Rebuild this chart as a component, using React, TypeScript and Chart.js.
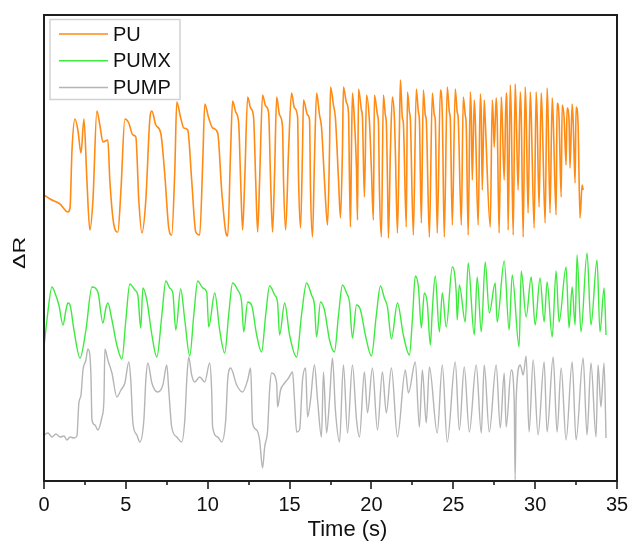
import { useEffect, useRef } from "react";
import { Chart, registerables } from "chart.js";
Chart.register(...registerables);

// Time axis (s)
const X_MIN = 0;
const X_MAX = 35;
const X_MAJOR_STEP = 5;
const X_MINOR_STEP = 2.5;

const SERIES_NAMES = ["PU", "PUMX", "PUMP"];

// [time (s), ΔR (arb. units)]
const PU: [number, number][] = [[0,286],[0.37,282],[0.98,277],[1.46,269],[1.59,273],[1.71,331],[1.89,362],[2.07,351],[2.26,328],[2.44,362],[2.62,301],[2.80,251],[2.99,281],[3.23,370],[3.41,356],[3.60,339],[3.90,341],[4.02,301],[4.27,256],[4.51,249],[4.70,291],[4.94,362],[5.18,358],[5.43,346],[5.61,344],[5.79,281],[5.98,248],[6.22,281],[6.46,361],[6.59,370],[6.83,356],[7.13,348],[7.38,306],[7.62,253],[7.80,246],[7.99,311],[8.11,379],[8.35,363],[8.54,353],[8.78,351],[9.02,301],[9.27,249],[9.51,246],[9.70,321],[9.82,377],[10.06,363],[10.30,353],[10.61,348],[10.85,291],[11.10,249],[11.22,245],[11.40,331],[11.52,380],[11.71,369],[11.89,358],[12.01,301],[12.13,251],[12.26,301],[12.44,384],[12.62,373],[12.80,364],[12.93,301],[13.05,249],[13.17,301],[13.35,386],[13.54,375],[13.72,368],[13.84,301],[13.96,249],[14.09,311],[14.21,384],[14.39,366],[14.57,354],[14.63,301],[14.76,251],[14.94,331],[15.12,388],[15.30,373],[15.49,364],[15.55,301],[15.67,253],[15.79,331],[15.85,381],[16.10,366],[16.22,361],[16.28,291],[16.40,244],[16.52,321],[16.65,388],[16.83,366],[16.95,354],[17.13,301],[17.32,256],[17.44,331],[17.50,394],[17.68,376],[17.80,363],[17.99,301],[18.11,263],[18.23,331],[18.29,394],[18.48,378],[18.60,368],[18.66,301],[18.72,254],[18.78,331],[18.84,388],[18.96,361],[19.09,311],[19.15,261],[19.21,392],[19.39,371],[19.45,364],[19.57,284],[19.70,386],[19.88,359],[20.00,311],[20.12,261],[20.18,386],[20.37,366],[20.43,358],[20.49,291],[20.61,244],[20.73,386],[20.85,366],[20.91,358],[20.98,301],[21.04,243],[21.16,331],[21.28,384],[21.40,364],[21.46,331],[21.59,248],[21.71,351],[21.77,401],[21.89,363],[21.95,358],[22.13,254],[22.20,389],[22.32,369],[22.38,361],[22.56,246],[22.74,392],[22.87,369],[22.93,361],[23.05,258],[23.17,391],[23.29,366],[23.35,361],[23.54,244],[23.72,388],[23.84,366],[23.90,361],[24.02,248],[24.21,391],[24.33,366],[24.45,244],[24.63,394],[24.76,369],[24.82,361],[24.94,256],[25.12,392],[25.24,369],[25.30,363],[25.49,256],[25.61,384],[25.73,366],[25.79,356],[25.91,246],[26.04,389],[26.10,366],[26.16,301],[26.28,381],[26.34,363],[26.52,256],[26.65,387],[26.71,366],[26.77,291],[26.89,381],[26.95,361],[27.26,254],[27.38,381],[27.44,363],[27.50,334],[27.62,383],[27.68,363],[27.80,248],[27.93,384],[27.99,363],[28.11,301],[28.23,388],[28.29,363],[28.35,251],[28.48,396],[28.54,366],[28.66,246],[28.78,397],[28.84,369],[28.96,291],[29.09,389],[29.15,366],[29.27,244],[29.39,394],[29.45,369],[29.57,268],[29.70,389],[29.76,366],[29.94,253],[30.06,389],[30.12,366],[30.24,274],[30.37,388],[30.43,366],[30.61,258],[30.73,393],[30.79,366],[30.91,268],[31.04,383],[31.10,364],[31.28,266],[31.34,378],[31.46,363],[31.59,284],[31.65,376],[31.77,363],[31.89,316],[31.95,373],[32.07,361],[32.13,313],[32.26,377],[32.32,361],[32.44,298],[32.50,374],[32.62,358],[32.74,263],[32.87,296],[32.93,291]];

const PUMX: [number, number][] = [[0,134],[0.18,161],[0.49,194],[0.67,188],[0.91,176],[1.16,156],[1.34,171],[1.46,178],[1.59,176],[1.83,151],[2.20,123],[2.56,151],[2.93,194],[3.29,189],[3.60,158],[3.78,173],[3.90,178],[4.15,161],[4.45,136],[4.76,122],[5.00,161],[5.24,197],[5.55,191],[5.73,186],[5.91,153],[6.04,193],[6.28,181],[6.59,146],[6.89,124],[7.20,166],[7.44,200],[7.68,193],[7.87,188],[8.05,151],[8.35,192],[8.60,161],[8.90,125],[9.15,166],[9.39,200],[9.70,193],[9.94,189],[10.06,154],[10.43,188],[10.73,151],[11.04,128],[11.28,166],[11.52,198],[11.83,191],[12.07,179],[12.20,149],[12.44,179],[12.68,176],[12.99,146],[13.29,129],[13.54,166],[13.78,195],[14.09,186],[14.27,178],[14.39,146],[14.70,178],[15.00,146],[15.43,124],[15.73,166],[16.04,198],[16.34,186],[16.52,176],[16.65,144],[16.89,179],[17.13,171],[17.44,141],[17.74,129],[17.99,166],[18.23,196],[18.48,188],[18.66,179],[18.84,143],[19.09,176],[19.33,171],[19.63,146],[20.00,125],[20.30,166],[20.55,195],[20.79,183],[20.98,174],[21.22,142],[21.59,178],[21.95,146],[22.32,126],[22.50,161],[22.68,205],[22.87,194],[23.05,153],[23.23,188],[23.41,178],[23.60,136],[23.72,171],[23.90,205],[24.15,149],[24.33,188],[24.57,154],[24.94,214],[25.18,188],[25.24,161],[25.37,196],[25.73,159],[25.91,218],[26.28,146],[26.46,204],[26.71,149],[26.95,219],[27.20,168],[27.56,198],[27.68,159],[28.11,220],[28.41,151],[28.60,206],[29.02,134],[29.15,210],[29.45,164],[29.76,204],[30.00,156],[30.30,203],[30.55,159],[30.73,199],[31.04,144],[31.28,210],[31.46,159],[31.89,214],[32.07,153],[32.26,194],[32.44,156],[32.56,226],[32.80,149],[33.17,228],[33.41,156],[33.78,221],[33.96,149],[34.21,193],[34.33,146]];

const PUMP: [number, number][] = [[0,46],[0.24,48],[0.49,44],[0.73,47],[0.98,44],[1.22,45],[1.40,41],[1.59,44],[1.83,43],[2.01,45],[2.13,78],[2.26,86],[2.38,111],[2.56,121],[2.68,132],[2.80,126],[2.87,104],[2.93,61],[3.11,56],[3.29,51],[3.54,64],[3.66,81],[3.72,132],[3.90,121],[4.15,108],[4.45,84],[4.70,91],[4.94,98],[5.18,119],[5.30,101],[5.43,58],[5.67,46],[5.85,39],[6.10,61],[6.22,101],[6.34,118],[6.59,98],[6.77,91],[6.95,89],[7.26,96],[7.50,116],[7.62,91],[7.80,54],[8.11,44],[8.41,39],[8.60,61],[8.72,101],[8.84,124],[9.02,106],[9.21,99],[9.51,104],[9.82,99],[10.12,118],[10.24,91],[10.30,54],[10.61,44],[10.85,39],[11.10,61],[11.22,101],[11.40,113],[11.77,96],[12.13,89],[12.44,101],[12.62,113],[12.74,58],[12.99,51],[13.17,41],[13.35,13],[13.48,34],[13.66,51],[13.78,91],[13.90,108],[14.21,98],[14.27,74],[14.45,91],[14.70,98],[14.94,103],[15.18,109],[15.30,81],[15.43,49],[15.61,51],[15.79,101],[15.98,113],[16.10,64],[16.28,81],[16.52,116],[16.71,81],[16.95,44],[17.07,109],[17.26,48],[17.44,81],[17.62,123],[17.80,71],[18.05,39],[18.29,116],[18.54,48],[18.84,116],[19.09,61],[19.27,44],[19.57,109],[19.76,68],[20.06,113],[20.37,51],[20.67,109],[20.91,68],[21.22,113],[21.59,44],[22.07,111],[22.26,88],[22.68,119],[22.93,54],[23.11,111],[23.35,58],[23.54,114],[24.02,48],[24.33,116],[24.63,39],[25.12,119],[25.37,51],[25.67,114],[25.98,49],[26.40,116],[26.71,48],[26.89,116],[27.20,49],[27.62,116],[27.87,53],[28.11,108],[28.23,54],[28.54,111],[28.72,81],[28.78,1],[28.84,81],[29.09,116],[29.27,106],[29.45,125],[29.63,49],[29.88,121],[30.18,46],[30.55,119],[30.73,49],[31.10,124],[31.34,49],[31.59,113],[31.89,41],[32.26,119],[32.50,41],[32.93,123],[33.17,46],[33.41,118],[33.72,44],[33.84,116],[34.02,74],[34.21,118],[34.33,43]];

const Y_MIN = 0;
const Y_MAX = 466;

const COLORS = ["#FF8A14", "#3FEA3F", "#B5B5B5"];
const WIDTHS = [1.6, 1.4, 1.4];
const FONT = "'Liberation Sans', Arial, sans-serif";

const decor = {
  id: "decor",
  afterDraw(chart: any) {
    const { ctx, chartArea: a, scales } = chart;
    const x = scales.x;
    ctx.save();
    // frame
    ctx.strokeStyle = "#1e1e1e";
    ctx.lineWidth = 2;
    ctx.strokeRect(a.left, a.top, a.right - a.left, a.bottom - a.top);
    // x ticks (outward)
    ctx.lineWidth = 1.6;
    for (let t = X_MIN; t <= X_MAX + 1e-9; t += X_MINOR_STEP) {
      const px = Math.round(x.getPixelForValue(t));
      const major = Math.abs(t / X_MAJOR_STEP - Math.round(t / X_MAJOR_STEP)) < 1e-6;
      ctx.beginPath();
      ctx.moveTo(px, a.bottom);
      ctx.lineTo(px, a.bottom + (major ? 8 : 4));
      ctx.stroke();
    }
    // axis titles
    ctx.fillStyle = "#111";
    ctx.textAlign = "center";
    ctx.textBaseline = "middle";
    ctx.font = `22px ${FONT}`;
    ctx.fillText("Time (s)", (a.left + a.right) / 2 + 17, a.bottom + 49);
    ctx.save();
    ctx.translate(a.left - 24, (a.top + a.bottom) / 2 + 5);
    ctx.rotate(-Math.PI / 2);
    ctx.scale(1.35, 1);
    ctx.font = `17px ${FONT}`;
    ctx.fillText("\u0394R", 0, 0);
    ctx.restore();
    // legend
    const lx = a.left + 6, ly = a.top + 4.5, lw = 130, lh = 80;
    ctx.fillStyle = "#fff";
    ctx.fillRect(lx, ly, lw, lh);
    ctx.strokeStyle = "#d2d2d2";
    ctx.lineWidth = 1.5;
    ctx.strokeRect(lx, ly, lw, lh);
    ctx.font = `20px ${FONT}`;
    ctx.textAlign = "left";
    SERIES_NAMES.forEach((name, i) => {
      const yy = ly + 14.5 + i * 26.7;
      ctx.strokeStyle = COLORS[i];
      ctx.lineWidth = 1.5;
      ctx.beginPath();
      ctx.moveTo(lx + 9, yy);
      ctx.lineTo(lx + 58, yy);
      ctx.stroke();
      ctx.fillStyle = "#111";
      ctx.fillText(name, lx + 63, yy + 1);
    });
    ctx.restore();
  },
};

export default function App() {
  const ref = useRef<HTMLCanvasElement | null>(null);
  useEffect(() => {
    if (!ref.current) return;
    const series = [PU, PUMX, PUMP];
    const chart = new Chart(ref.current, {
      type: "line",
      data: {
        datasets: series.map((s, i) => ({
          label: SERIES_NAMES[i],
          data: s.map(([t, v]) => ({ x: t, y: v })),
          borderColor: COLORS[i],
          backgroundColor: COLORS[i],
          borderWidth: WIDTHS[i],
          pointRadius: 0,
          cubicInterpolationMode: "monotone",
          tension: 0.4,
          fill: false,
        })),
      },
      options: {
        animation: false,
        responsive: true,
        maintainAspectRatio: false,
        layout: { padding: { top: 15, right: 14, left: 0, bottom: 0 } },
        plugins: { legend: { display: false }, tooltip: { enabled: false } },
        scales: {
          x: {
            type: "linear",
            min: X_MIN,
            max: X_MAX,
            grid: { display: false, drawTicks: false, tickLength: 0 },
            border: { display: false },
            ticks: {
              stepSize: X_MAJOR_STEP,
              autoSkip: false,
              maxRotation: 0,
              padding: 12,
              color: "#111",
              font: { family: FONT, size: 20 },
            },
            afterFit: (s: any) => {
              s.height = 60;
              s.paddingLeft = 0;
              s.paddingRight = 0;
            },
          },
          y: {
            min: Y_MIN,
            max: Y_MAX,
            ticks: { display: false },
            grid: { display: false, drawTicks: false },
            border: { display: false },
            afterFit: (s: any) => {
              s.width = 44;
              s.paddingTop = 0;
              s.paddingBottom = 0;
            },
          },
        },
      },
      plugins: [decor],
    });
    return () => chart.destroy();
  }, []);
  return (
    <div style={{ position: "fixed", left: 0, top: 0, width: 631, height: 541, background: "#fff" }}>
      <canvas ref={ref} />
    </div>
  );
}
